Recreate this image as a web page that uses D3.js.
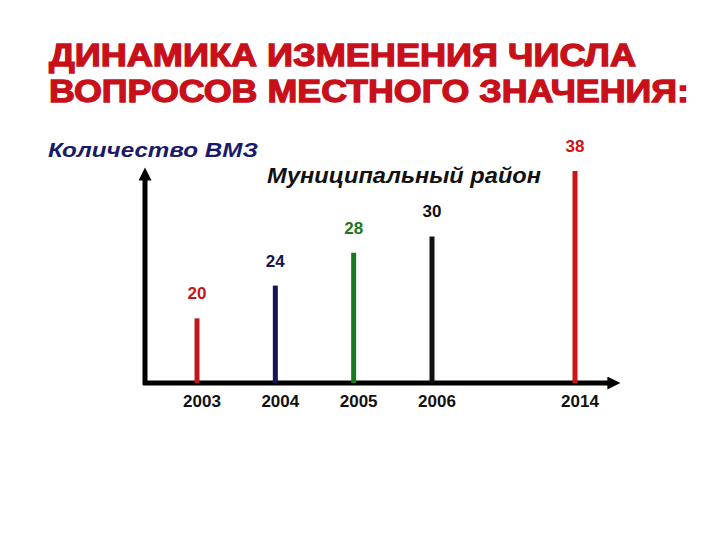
<!DOCTYPE html>
<html>
<head>
<meta charset="utf-8">
<script src="https://cdn.jsdelivr.net/npm/d3@7"></script>
<style>
  body { margin: 0; background: #fff; }
  svg text { font-family: Arial, "Liberation Sans", sans-serif; }
</style>
</head>
<body>
<script>
// data
const years = [2003, 2004, 2005, 2006, 2014];
const counts = [20, 24, 28, 30, 38];
const barColors = ["#c0171c", "#141458", "#187a1e", "#111111", "#cc1414"];
const titleLines = ["ДИНАМИКА ИЗМЕНЕНИЯ ЧИСЛА", "ВОПРОСОВ МЕСТНОГО ЗНАЧЕНИЯ:"];

document.addEventListener("DOMContentLoaded", function() {
    const width = 720;
    const height = 540;

    const svg = d3.select("body").append("svg")
        .attr("width", width)
        .attr("height", height);

    const baseline = 383;
    const axisLeft = 145;

    // years are not evenly spaced on the picture (axis break before 2014)
    const x = d3.scaleLinear()
        .domain([2003, 2006, 2014])
        .range([197, 432, 575]);

    // picture is not to scale from zero; fitted linear scale
    const y = d3.scaleLinear()
        .domain([12.1, 38])
        .range([baseline, 171]);

    // title
    svg.append("g").selectAll("text")
        .data(titleLines)
        .join("text")
        .attr("x", 49)
        .attr("y", (d, i) => 66 + i * 36)
        .attr("textLength", (d, i) => i === 0 ? 587 : 640)
        .attr("lengthAdjust", "spacingAndGlyphs")
        .attr("fill", "#c8101a")
        .attr("stroke", "#c8101a")
        .attr("stroke-width", 1.3)
        .attr("font-size", 32)
        .attr("font-weight", "bold")
        .text(d => d);

    svg.append("text")
        .attr("x", 48)
        .attr("y", 157)
        .attr("fill", "#1a1a6a")
        .attr("font-size", 20)
        .attr("font-weight", "bold")
        .attr("font-style", "italic")
        .attr("textLength", 210)
        .attr("lengthAdjust", "spacingAndGlyphs")
        .text("Количество ВМЗ");

    svg.append("text")
        .attr("x", 267)
        .attr("y", 183)
        .attr("fill", "#111")
        .attr("font-size", 22)
        .attr("font-weight", "bold")
        .attr("font-style", "italic")
        .attr("textLength", 274)
        .attr("lengthAdjust", "spacingAndGlyphs")
        .text("Муниципальный район");

    // arrowheads
    const defs = svg.append("defs");
    defs.append("marker")
        .attr("id", "arrow")
        .attr("viewBox", "0 0 10 10")
        .attr("refX", 2)
        .attr("refY", 5)
        .attr("markerWidth", 3.2)
        .attr("markerHeight", 2.6)
        .attr("markerUnits", "strokeWidth")
        .attr("orient", "auto")
        .append("path")
        .attr("d", "M0,0L10,5L0,10Z")
        .attr("fill", "#000");

    // axes
    svg.append("line")
        .attr("x1", axisLeft).attr("y1", baseline + 2)
        .attr("x2", axisLeft).attr("y2", 178)
        .attr("stroke", "#000")
        .attr("stroke-width", 5)
        .attr("marker-end", "url(#arrow)");

    svg.append("line")
        .attr("x1", axisLeft - 2).attr("y1", baseline)
        .attr("x2", 610).attr("y2", baseline)
        .attr("stroke", "#000")
        .attr("stroke-width", 5)
        .attr("marker-end", "url(#arrow)");

    const data = years.map((yr, i) => ({year: yr, value: counts[i], color: barColors[i]}));

    // bars as thick lines
    svg.append("g").selectAll("line")
        .data(data)
        .join("line")
        .attr("x1", d => x(d.year))
        .attr("x2", d => x(d.year))
        .attr("y1", baseline)
        .attr("y2", d => y(d.value))
        .attr("stroke", d => d.color)
        .attr("stroke-width", 5);

    // value labels
    svg.append("g").selectAll("text")
        .data(data)
        .join("text")
        .attr("x", d => x(d.year))
        .attr("y", d => y(d.value) - 19)
        .attr("text-anchor", "middle")
        .attr("fill", d => d.color)
        .attr("font-size", 17)
        .attr("font-weight", "bold")
        .text(d => d.value);

    // year labels
    svg.append("g").selectAll("text")
        .data(data)
        .join("text")
        .attr("x", d => x(d.year) + 5)
        .attr("y", 407)
        .attr("text-anchor", "middle")
        .attr("fill", "#111")
        .attr("font-size", 17)
        .attr("font-weight", "bold")
        .text(d => d.year);
});
</script>
</body>
</html>
